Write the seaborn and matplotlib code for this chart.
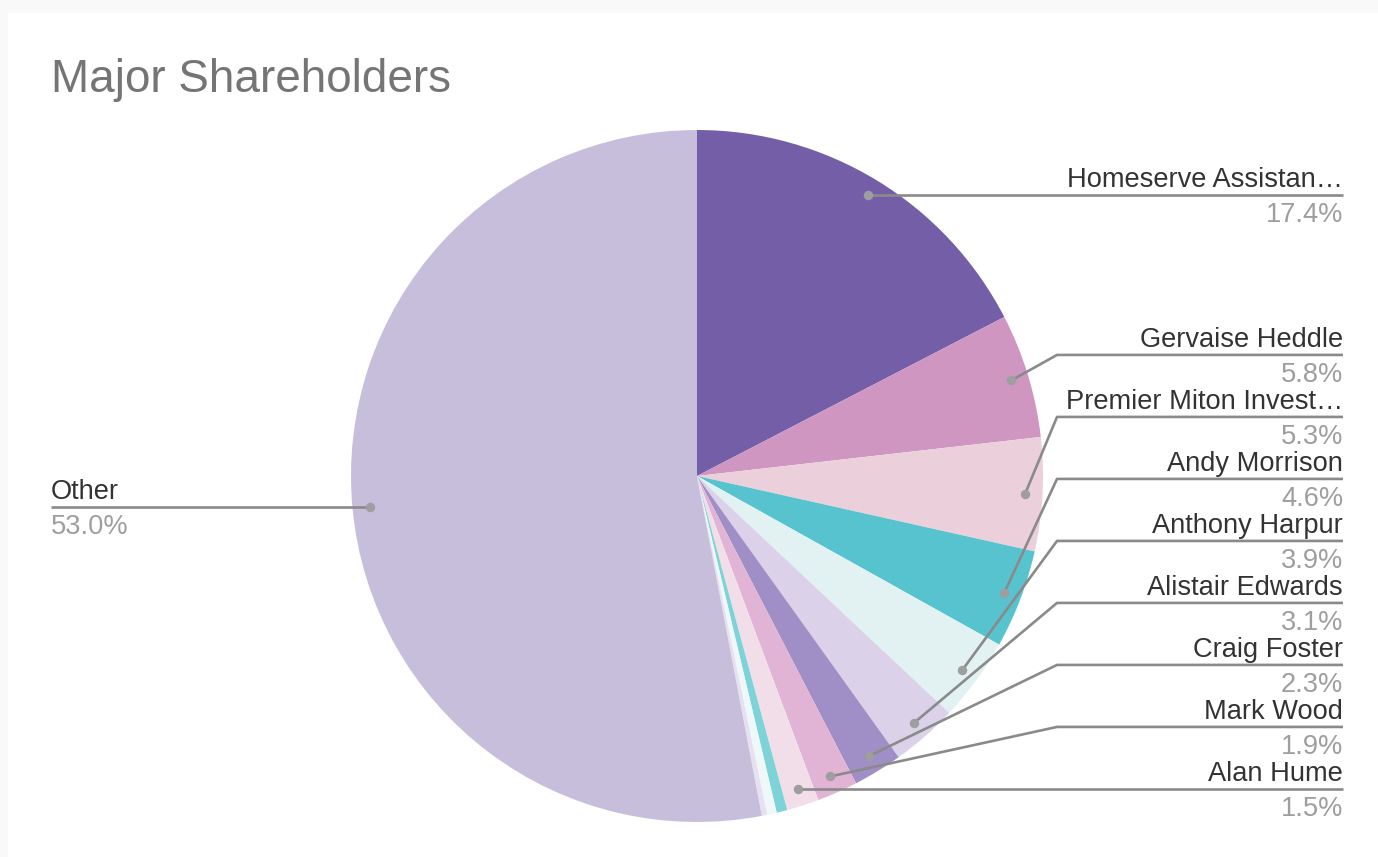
import numpy as np
import matplotlib
matplotlib.use("Agg")
import matplotlib.pyplot as plt
from matplotlib.patches import Rectangle
import seaborn as sns

# ---------------- data ----------------
names = ["Homeserve Assistan…", "Gervaise Heddle", "Premier Miton Invest…",
         "Andy Morrison", "Anthony Harpur", "Alistair Edwards", "Craig Foster",
         "Mark Wood", "Alan Hume", "", "", "", "Other"]
shares = [17.4, 5.8, 5.3, 4.6, 3.9, 3.1, 2.3, 1.9, 1.5, 0.5, 0.45, 0.25, 53.0]
pct_labels = ["17.4%", "5.8%", "5.3%", "4.6%", "3.9%", "3.1%", "2.3%",
              "1.9%", "1.5%", "", "", "", "53.0%"]
slice_colors = ["#745ea8", "#d096c2", "#ebd0dc", "#57c3cf", "#e2f2f3", "#dbd2ea",
                "#9f8fc6", "#e1b3d4", "#f2dee8", "#7dd3d8", "#eef8f8", "#e6e0f0",
                "#c7bedc"]
title = "Major Shareholders"

# ---------------- style ----------------
sns.set_style("white")
plt.rcParams["font.family"] = ["Liberation Sans", "DejaVu Sans"]

W, H = 1378, 857
fig = plt.figure(figsize=(W / 100, H / 100), dpi=100)
fig.patch.set_facecolor("#f9f9f9")
ax = fig.add_axes([0, 0, 1, 1])
ax.set_facecolor("none")

def Y(y_img):
    return H - y_img

# white card
ax.add_patch(Rectangle((8, 0), W - 8, H - 13, facecolor="white",
                       edgecolor="none", zorder=0))

cx, cy_img, R = 697, 476, 346
palette = sns.color_palette(slice_colors)
ax.pie(shares, colors=palette, startangle=90, counterclock=False,
       center=(cx, Y(cy_img)), radius=R, wedgeprops=dict(linewidth=0),
       frame=True)

# leader geometry derived from data
vals = np.array(shares, dtype=float)
cum = np.cumsum(vals) - vals / 2
theta = 2 * np.pi * cum / vals.sum()
dot_r = 0.95 * R
dot_x = cx + dot_r * np.sin(theta)
dot_y_img = cy_img - dot_r * np.cos(theta)

line_col = "#8a8a8a"
dot_col = "#9e9e9e"
name_col = "#333333"
pct_col = "#9e9e9e"
fs = 19.6

right_idx = [i for i in range(len(names)) if names[i] and dot_x[i] > cx]
left_idx = [i for i in range(len(names)) if names[i] and dot_x[i] <= cx]

gap = 62
ly = {i: dot_y_img[i] for i in right_idx}
for k in range(len(right_idx) - 2, -1, -1):
    a, b = right_idx[k], right_idx[k + 1]
    ly[a] = min(ly[a], ly[b] - gap)

x_kink, x_end = 1057, 1343
for i in right_idx:
    yl = ly[i]
    ax.plot([dot_x[i], x_kink, x_end], [Y(dot_y_img[i]), Y(yl), Y(yl)],
            color=line_col, lw=1.9, solid_capstyle="butt", zorder=3)
    ax.plot(dot_x[i], Y(dot_y_img[i]), "o", ms=6.8, color=dot_col, mec="none", zorder=4)
    ax.text(x_end, Y(yl - 8), names[i], ha="right", va="baseline",
            fontsize=fs, color=name_col, zorder=5)
    ax.text(x_end, Y(yl + 27), pct_labels[i], ha="right", va="baseline",
            fontsize=fs, color=pct_col, zorder=5)

x_left = 51
for i in left_idx:
    yl = dot_y_img[i]
    ax.plot([dot_x[i], x_left], [Y(yl), Y(yl)], color=line_col, lw=1.9,
            solid_capstyle="butt", zorder=3)
    ax.plot(dot_x[i], Y(yl), "o", ms=6.8, color=dot_col, mec="none", zorder=4)
    ax.text(x_left, Y(yl - 8), names[i], ha="left", va="baseline",
            fontsize=fs, color=name_col, zorder=5)
    ax.text(x_left, Y(yl + 27), pct_labels[i], ha="left", va="baseline",
            fontsize=fs, color=pct_col, zorder=5)

ax.text(51, Y(92), title, ha="left", va="baseline", fontsize=33,
        color="#757575", zorder=5)

ax.set_xlim(0, W)
ax.set_ylim(0, H)
ax.set_aspect("auto")
ax.set_axis_off()

fig.savefig("out.png", dpi=100, facecolor=fig.get_facecolor())
